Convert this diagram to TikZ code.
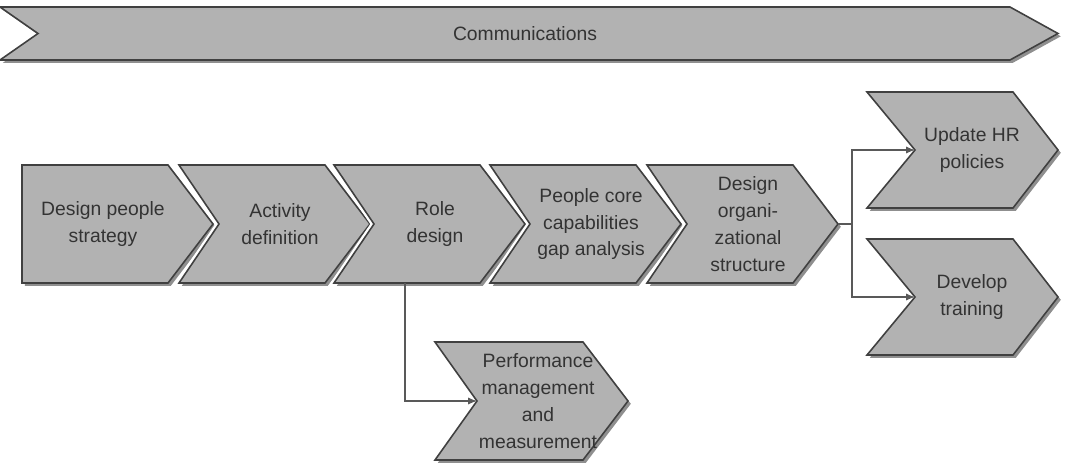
\documentclass[tikz,border=0pt]{standalone}
\usepackage{fontspec}
\setmainfont{Liberation Sans}
\usepackage{tikz}
\usetikzlibrary{arrows.meta, shadows, calc}
\tikzset{
	stepbox/.style={draw=black!75, line width=0.9pt, fill=black!30,
		preaction={draw=white, line width=3.5pt},
		drop shadow={shadow xshift=1.6pt, shadow yshift=-1.6pt, fill=black!55, opacity=0.8}}
}
\tikzset{
	steptext/.style={font=\fontsize{11}{15.3}\selectfont, text=black!80, align=center, inner sep=0pt}
}
\tikzset{
	flowline/.style={draw=black!65, line width=0.6pt},
	flowarrow/.style={flowline, -{Latex[length=5pt,width=4pt]}}
}
\def\tipd{45}
\newcommand{\chev}[7]{%
  \draw[stepbox] (#2,#3) -- (#2+#4-\tipd,#3) -- (#2+#4,#3+#5/2) -- (#2+#4-\tipd,#3+#5)
    -- (#2,#3+#5) -- (#2+#6,#3+#5/2) -- cycle;
  \coordinate (#1-in) at (#2+#6,#3+#5/2);
  \coordinate (#1-out) at (#2+#4,#3+#5/2);
  \node[steptext] (#1) at (#2+#6/2+#4/2-\tipd/2+8,#3+#5/2) {#7};
}

\begin{document}
\begin{tikzpicture}[x=0.02cm, y=-0.02cm]
      \useasboundingbox (0,0) rectangle (1069,464);
      \draw[stepbox] (0,7) -- (1010,7) -- (1058,33.5) -- (1010,60) -- (0,60) -- (38,33.5) -- cycle;
      \node[steptext] (comm) at (525,33.5) {Communications};
      \foreach \n/\x/\k/\t in {strat/22/0/{Design people\\strategy}, act/179/40/{Activity\\definition},
          role/334/40/{Role\\design}, gap/490/40/{People core\\capabilities\\gap analysis},
          org/647/40/{Design\\organi-\\zational\\structure}}
        \chev{\n}{\x}{165}{191}{118}{\k}{\t};
      \chev{hr}{867}{92}{191}{116}{48}{Update HR\\policies}
      \chev{train}{867}{239}{191}{116}{48}{Develop\\training}
      \chev{perf}{435}{342}{193}{118}{42}{Performance\\management\\and\\measurement}
      \draw[flowline] (org-out) -- ++(14,0) coordinate (fork);
      \draw[flowarrow] (fork) |- (hr-in);
      \draw[flowarrow] (fork) |- (train-in);
      \coordinate (role-bot) at (405,283);
      \draw[flowarrow] (role-bot) |- (perf-in);
    \end{tikzpicture}
\end{document}
